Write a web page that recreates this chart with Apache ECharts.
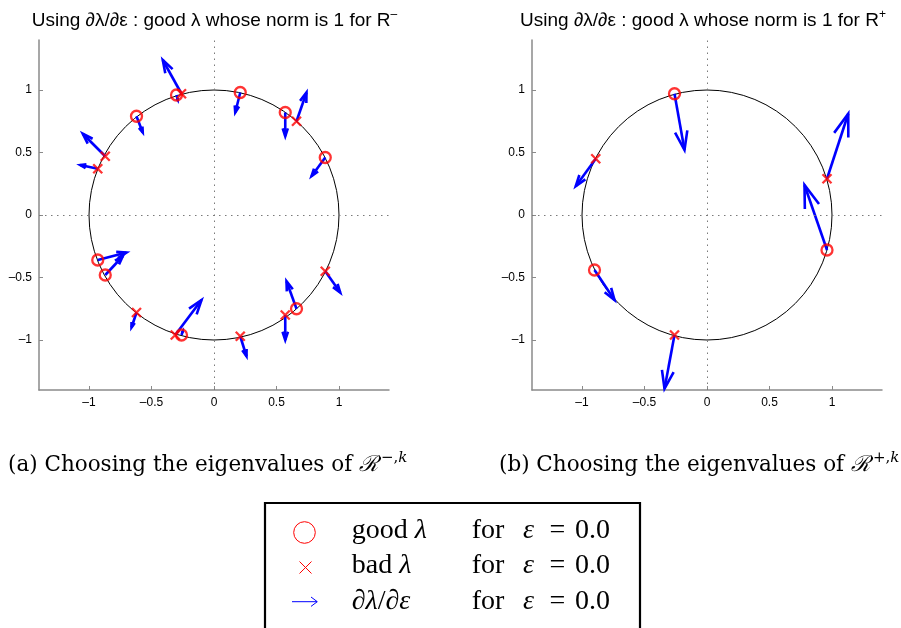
<!DOCTYPE html>
<html>
<head>
<meta charset="utf-8">
<script src="https://cdn.jsdelivr.net/npm/echarts@6/dist/echarts.min.js"></script>
<style>
  html, body { margin: 0; padding: 0; background: #fff; }
  #chart { width: 901px; height: 628px; }
</style>
</head>
<body>
<div id="chart"></div>
<script>
// tick positions on both axes of both panels
const axisTicks = [-1, -0.5, 0, 0.5, 1];

// panel (a): R^-  — eigenvalues and tips of the d(lambda)/d(eps) arrows
const leftGood = [[-0.30, 0.96], [-0.62, 0.79], [0.21, 0.98], [0.57, 0.82], [0.89, 0.46],
  [-0.93, -0.36], [-0.87, -0.48], [-0.26, -0.96], [0.66, -0.75]];
const leftGoodTips = [[-0.29, 0.92], [-0.57, 0.66], [0.17, 0.82], [0.57, 0.63], [0.78, 0.31],
  [-0.70, -0.30], [-0.73, -0.33], [-0.25, -0.93], [0.58, -0.53]];
const leftBad = [[-0.26, 0.97], [-0.87, 0.47], [-0.93, 0.37], [0.66, 0.75], [-0.62, -0.78],
  [-0.31, -0.96], [0.89, -0.45], [0.57, -0.80], [0.21, -0.97]];
const leftBadTips = [[-0.41, 1.24], [-1.05, 0.65], [-1.07, 0.40], [0.74, 0.98], [-0.66, -0.90],
  [-0.10, -0.68], [1.01, -0.62], [0.57, -1.00], [0.26, -1.13]];

// panel (b): R^+
const rightGood = [[-0.26, 0.97], [0.96, -0.28], [-0.90, -0.44]];
const rightGoodTips = [[-0.18, 0.52], [0.78, 0.24], [-0.74, -0.68]];
const rightBad = [[-0.89, 0.45], [0.96, 0.29], [-0.26, -0.96]];
const rightBadTips = [[-1.05, 0.23], [1.13, 0.81], [-0.34, -1.39]];

const chart = echarts.init(document.getElementById('chart'));

const SANS = '"Liberation Sans", Arial, sans-serif';
const SERIF = '"Liberation Serif", "Times New Roman", serif';
const WIDE_SERIF = '"DejaVu Serif", serif';
const RED = '#ff0000';
const BLUE = '#0000ff';
const AXIS_GRAY = '#8a8a8a';

const fmtTick = (v) => (v < 0 ? '\u2013' + String(-v) : String(v));

function valueAxis(gridIndex) {
  return {
    type: 'value',
    gridIndex,
    min: -1.4,
    max: 1.4,
    axisLine: { show: true, onZero: false, lineStyle: { color: AXIS_GRAY, width: 1.5 } },
    axisTick: { show: true, inside: true, length: 4, customValues: axisTicks, lineStyle: { color: AXIS_GRAY, width: 1 } },
    axisLabel: {
      customValues: axisTicks,
      formatter: fmtTick,
      color: '#000',
      fontSize: 12,
      fontFamily: SANS,
      margin: 7,
    },
    splitLine: { show: false },
  };
}

const pairs = (pts, tips) => pts.map((p, i) => [p[0], p[1], tips[i][0], tips[i][1]]);

function renderArrow(params, api) {
  const p0 = api.coord([api.value(0), api.value(1)]);
  const p1 = api.coord([api.value(2), api.value(3)]);
  const dx = p1[0] - p0[0];
  const dy = p1[1] - p0[1];
  // quiver-style head: alpha = beta = 0.33
  const a = 0.33, b = 0.33;
  const h1 = [p1[0] - a * (dx + b * dy), p1[1] - a * (dy - b * dx)];
  const h2 = [p1[0] - a * (dx - b * dy), p1[1] - a * (dy + b * dx)];
  const style = { stroke: BLUE, lineWidth: 2.6, fill: null };
  return {
    type: 'group',
    children: [
      { type: 'line', shape: { x1: p0[0], y1: p0[1], x2: p1[0], y2: p1[1] }, style },
      { type: 'polyline', shape: { points: [h1, p1, h2] }, style },
    ],
  };
}

function renderUnitCircle(params, api) {
  const c = api.coord([api.value(0), api.value(1)]);
  const r = api.size([api.value(2), 0])[0];
  return {
    type: 'circle',
    shape: { cx: c[0], cy: c[1], r },
    style: { fill: null, stroke: '#000', lineWidth: 1 },
  };
}

function panelSeries(gi, good, goodTips, bad, badTips) {
  return [
    {
      type: 'custom',
      xAxisIndex: gi,
      yAxisIndex: gi,
      silent: true,
      z: 1,
      encode: { x: 0, y: 1 },
      data: [[0, 0, 1]],
      renderItem: renderUnitCircle,
    },
    {
      type: 'custom',
      xAxisIndex: gi,
      yAxisIndex: gi,
      silent: true,
      z: 2,
      encode: { x: [0, 2], y: [1, 3] },
      data: pairs(good, goodTips).concat(pairs(bad, badTips)),
      renderItem: renderArrow,
    },
    {
      type: 'scatter',
      xAxisIndex: gi,
      yAxisIndex: gi,
      silent: true,
      z: 3,
      symbol: 'circle',
      symbolSize: 11,
      itemStyle: { color: 'rgba(0,0,0,0)', borderColor: RED, borderWidth: 2.3 },
      data: good,
      markLine: {
        silent: true,
        symbol: 'none',
        label: { show: false },
        lineStyle: { color: '#7a7a7a', width: 1, type: [1.5, 4.5] },
        data: [{ xAxis: 0 }, { yAxis: 0 }],
      },
    },
    {
      type: 'scatter',
      xAxisIndex: gi,
      yAxisIndex: gi,
      silent: true,
      z: 3,
      symbol: 'path://M0,0L10,10M10,0L0,10',
      symbolSize: 9,
      itemStyle: { color: 'none', borderColor: RED, borderWidth: 2.3 },
      data: bad,
    },
  ];
}

const titleRich = {
  sup: { fontSize: 12, fontFamily: SANS, lineHeight: 12, verticalAlign: 'top' },
};
const captionRich = {
  s: { fontSize: 22, fontFamily: SERIF, fontStyle: 'italic', lineHeight: 28 },
  sup: { fontSize: 15, fontFamily: WIDE_SERIF, lineHeight: 15, verticalAlign: 'top', padding: [0, 0, 0, 3] },
  supi: { fontSize: 15, fontFamily: WIDE_SERIF, fontStyle: 'italic', lineHeight: 15, verticalAlign: 'top' },
};
const legendRich = {
  i: { fontSize: 28, fontFamily: SERIF, fontStyle: 'italic' },
};

function text(x, y, str, opts) {
  return {
    type: 'text',
    x,
    y,
    silent: true,
    style: Object.assign({ text: str, fill: '#000', verticalAlign: 'middle' }, opts),
  };
}

const legendRows = [530.6, 565.6, 601.3];

const option = {
  animation: false,
  backgroundColor: '#fff',
  grid: [
    { left: 39, top: 40, width: 350, height: 350 },
    { left: 532, top: 40, width: 350, height: 350 },
  ],
  xAxis: [valueAxis(0), valueAxis(1)],
  yAxis: [valueAxis(0), valueAxis(1)],
  series: [
    ...panelSeries(0, leftGood, leftGoodTips, leftBad, leftBadTips),
    ...panelSeries(1, rightGood, rightGoodTips, rightBad, rightBadTips),
  ],
  graphic: [
    text(214.5, 21, 'Using \u2202\u03bb/\u2202\u03b5 : good \u03bb whose norm is 1 for R{sup|\u2013}', {
      align: 'center', fontSize: 19, fontFamily: SANS, lineHeight: 24, rich: titleRich,
    }),
    text(703, 21, 'Using \u2202\u03bb/\u2202\u03b5 : good \u03bb whose norm is 1 for R{sup|+}', {
      align: 'center', fontSize: 19, fontFamily: SANS, lineHeight: 24, rich: titleRich,
    }),
    text(8, 465, '(a) Choosing the eigenvalues of {s|\u211b}{sup|\u2212,}{supi|k}', {
      align: 'left', fontSize: 21.5, fontFamily: WIDE_SERIF, lineHeight: 28, rich: captionRich,
    }),
    text(499, 465, '(b) Choosing the eigenvalues of {s|\u211b}{sup|+,}{supi|k}', {
      align: 'left', fontSize: 21.5, fontFamily: WIDE_SERIF, lineHeight: 28, rich: captionRich,
    }),
    // legend box
    {
      type: 'rect',
      silent: true,
      shape: { x: 265, y: 503, width: 375, height: 140 },
      style: { fill: '#fff', stroke: '#000', lineWidth: 2.2 },
    },
    {
      type: 'circle',
      silent: true,
      shape: { cx: 304.5, cy: 532.5, r: 10.8 },
      style: { fill: null, stroke: RED, lineWidth: 1 },
    },
    {
      type: 'polyline',
      silent: true,
      shape: { points: [[299.5, 561.5], [311.5, 573.5]] },
      style: { stroke: RED, lineWidth: 1 },
    },
    {
      type: 'polyline',
      silent: true,
      shape: { points: [[311.5, 561.5], [299.5, 573.5]] },
      style: { stroke: RED, lineWidth: 1 },
    },
    {
      type: 'polyline',
      silent: true,
      shape: { points: [[292, 601.7], [317, 601.7]] },
      style: { stroke: BLUE, lineWidth: 1 },
    },
    {
      type: 'polyline',
      silent: true,
      shape: { points: [[311, 597], [317.3, 601.7], [311, 606.4]] },
      style: { stroke: BLUE, lineWidth: 1, fill: null },
    },
    text(351.7, legendRows[0], 'good {i|\u03bb}', { fontSize: 28, fontFamily: SERIF, rich: legendRich }),
    text(351.7, legendRows[1], 'bad {i|\u03bb}', { fontSize: 28, fontFamily: SERIF, rich: legendRich }),
    text(351.7, legendRows[2], '{i|\u2202\u03bb}/{i|\u2202\u03b5}', { fontSize: 28, fontFamily: SERIF, rich: legendRich }),
    ...legendRows.flatMap((y) => [
      text(471.7, y, 'for', { fontSize: 28, fontFamily: SERIF }),
      text(523, y, '{i|\u03b5}', { fontSize: 28, fontFamily: SERIF, rich: legendRich }),
      text(557.5, y, '=', { align: 'center', fontSize: 28, fontFamily: SERIF }),
      text(575, y, '0.0', { fontSize: 28, fontFamily: SERIF }),
    ]),
  ],
};

chart.setOption(option);
</script>
</body>
</html>
